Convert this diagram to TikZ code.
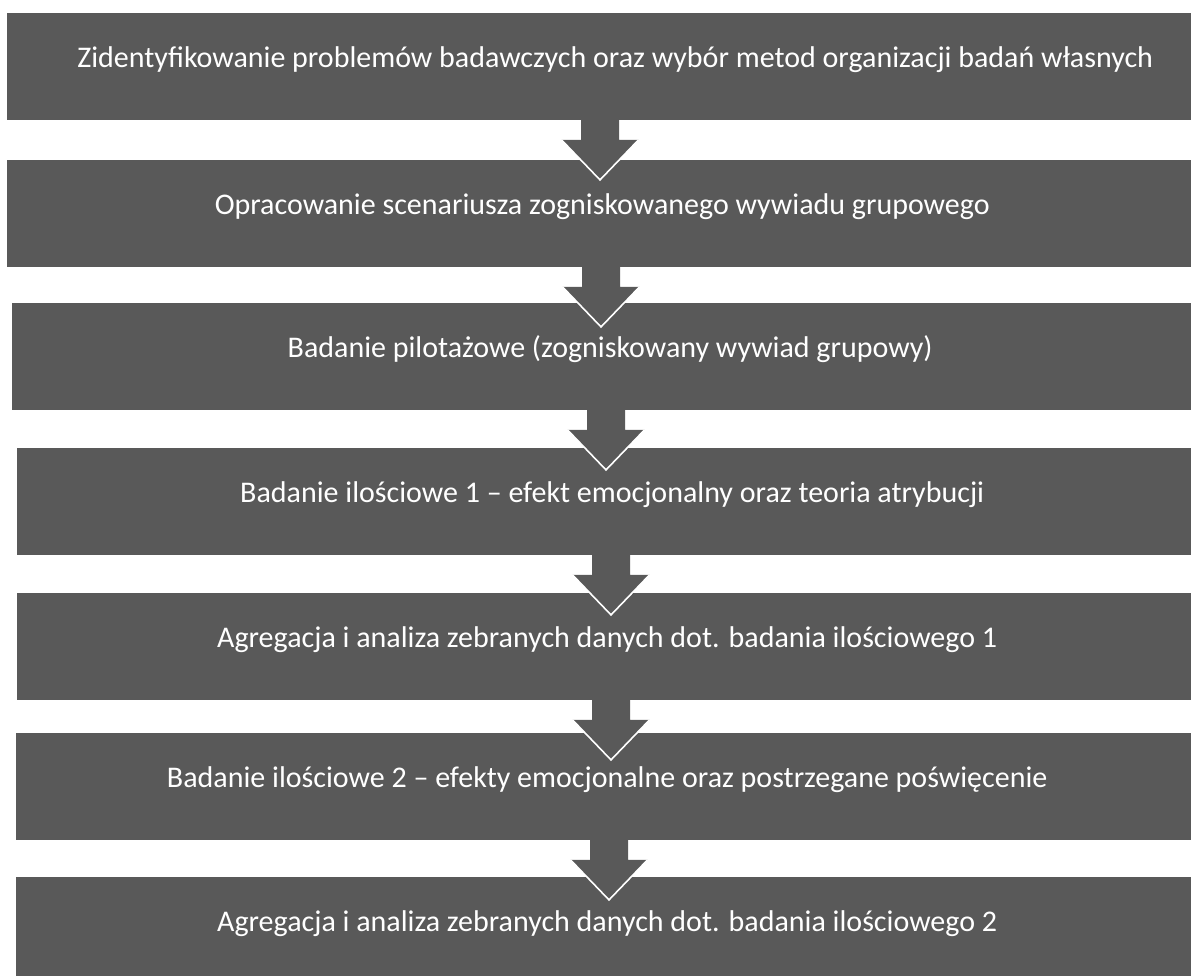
\documentclass[tikz,border=0pt]{standalone}
\usepackage{fontspec}
\setmainfont{Carlito}
\definecolor{boxgray}{HTML}{595959}
\tikzset{
  stepbox/.style={draw=none, fill=boxgray, text=white, rectangle, inner sep=0pt,
    minimum height=106.5pt, anchor=north west, text height=0.7em, text depth=0.45em,
    font=\fontsize{30}{36}\selectfont},
  arrowbody/.style={fill=boxgray, draw=none},
  arrowedge/.style={draw=white, line width=1.6pt, line join=miter},
}
\begin{document}
\begin{tikzpicture}[x=1pt, y=-1pt]
\useasboundingbox (0,0) rectangle (1191,976);
\clip (0,0) rectangle (1191,976);
\fill[white] (0,0) rectangle (1191,976);

\node[stepbox, minimum width=1216pt] (b1) at (7,13)
  {Zidentyfikowanie problemów badawczych oraz wybór metod organizacji badań własnych};
\node[stepbox, minimum width=1190pt] (b2) at (7,160)
  {Opracowanie scenariusza zogniskowanego wywiadu grupowego};
\node[stepbox, minimum width=1196pt] (b3) at (12,303)
  {Badanie pilotażowe (zogniskowany wywiad grupowy)};
\node[stepbox, minimum width=1190pt] (b4) at (17,448)
  {Badanie ilościowe 1 – efekt emocjonalny oraz teoria atrybucji};
\node[stepbox, minimum width=1180pt] (b5) at (17,593)
  {Agregacja i analiza zebranych danych dot. badania ilościowego 1};
\node[stepbox, minimum width=1182pt] (b6) at (16,733)
  {Badanie ilościowe 2 – efekty emocjonalne oraz postrzegane poświęcenie};
\node[stepbox, minimum width=1182pt] (b7) at (16,877)
  {Agregacja i analiza zebranych danych dot. badania ilościowego 2};

\foreach \a/\b/\x in {b1/b2/600, b2/b3/601, b3/b4/606, b4/b5/611, b5/b6/611, b6/b7/609}{
  \coordinate (s-\a) at (\x,0 |- \a.south);
  \path[arrowbody] (s-\a) ++(-19,-1) -- ++(0,21) -- ++(-19.5,0) -- ++(38.5,40)
    -- ++(38.5,-40) -- ++(-19.5,0) -- ++(0,-21) -- cycle;
  \draw[arrowedge] (s-\a) ++(-38.5,20) -- ++(38.5,40) -- ++(38.5,-40);
}
\end{tikzpicture}
\end{document}
